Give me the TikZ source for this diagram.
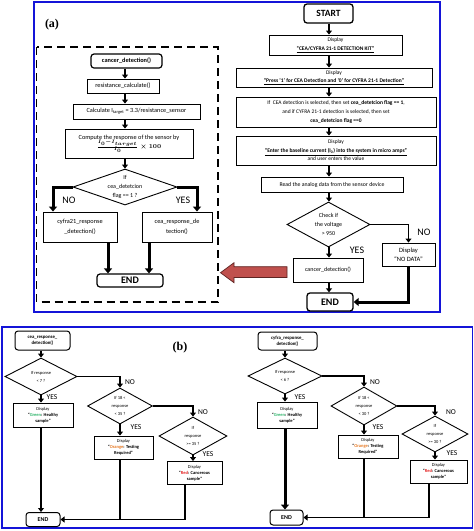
\documentclass[tikz,border=0pt]{standalone}
\usepackage{fontspec}
\setmainfont{Carlito}
\newfontfamily\serifb{Liberation Serif}
\usetikzlibrary{shapes.geometric,arrows.meta,calc}
\definecolor{panelblue}{HTML}{1414D8}
\definecolor{arrred}{HTML}{C0504D}
\definecolor{arrdark}{HTML}{5E2422}
\definecolor{grn}{HTML}{2DB56A}
\definecolor{org}{HTML}{E87A24}
\definecolor{rd}{HTML}{E41E1E}
\tikzset{
  box/.style={draw, line width=0.9pt, fill=white, align=center, inner sep=0pt},
  rbox/.style={box, rounded corners=3pt},
  dia/.style={draw, diamond, line width=0.9pt, inner sep=0pt, fill=white},
  dtext/.style={align=center, inner sep=0pt},
  arr/.style={line width=1.8pt, -{Triangle[length=4pt,width=6pt]}},
  arrT/.style={line width=3pt, -{Triangle[length=5pt,width=8pt]}},
  plain/.style={line width=1.8pt},
  lbl/.style={inner sep=0pt, font=\fontsize{10}{12}\selectfont},
  slbl/.style={inner sep=0pt, font=\fontsize{7.5}{9}\selectfont},
  fA/.style={font=\fontsize{6.3}{10}\selectfont},
  fB/.style={font=\fontsize{5.5}{8.6}\selectfont},
  fC/.style={font=\fontsize{4.5}{6}\selectfont},
  fD/.style={font=\fontsize{4.5}{8}\selectfont},
  panel/.style={draw=panelblue, line width=1.6pt},
}
\begin{document}
\begin{tikzpicture}[x=1pt,y=-1pt]
\useasboundingbox (0,0) rectangle (474,531);
% panels
\draw[panel] (34,2) rectangle (440,312);
\draw[panel] (2,327) rectangle (472.5,528);
\node[inner sep=0pt, font=\serifb\bfseries\fontsize{12}{14}\selectfont] (la) at (52,25) {(a)};
\node[inner sep=0pt, font=\serifb\bfseries\fontsize{12}{14}\selectfont] (lb) at (180,348) {(b)};
\draw[line width=1.4pt, dash pattern=on 8pt off 5pt] (36.5,47) rectangle (218,302);

% ---------- top-left: cancer_detection ----------
\coordinate (colA) at (125,0);
\node[rbox, line width=1.2pt, minimum width=71, minimum height=14, fA, font=\bfseries\fontsize{6.3}{8}\selectfont] (cd) at (126.5,61) {cancer\_detection()};
\node[box, minimum width=72, minimum height=14, fA] (rc) at (123,86) {resistance\_calculate()};
\node[box, minimum width=127, minimum height=15, fA] (calc) at (136.5,111.5) {Calculate I\textsubscript{target} = 3.3/resistance\_sensor};
\node[box, minimum width=128, minimum height=29, font=\fontsize{6.3}{9}\selectfont] (comp) at (129,143.5) {Compute the response of the sensor by\\[-1pt] {\boldmath$\frac{I_0 - I_{target}}{I_0}\times 100$}};
\node[dia, minimum width=104, minimum height=36] (d1) at (125,187) {};
\node[dtext, font=\fontsize{6}{9}\selectfont] (d1t) at (d1) {If\\cea\_detetcion\\flag == 1 ?};
\node[box, minimum width=74, minimum height=30, fA] (cyf) at (80,227) {cyfra21\_response\\\_detection()};
\node[box, minimum width=70, minimum height=30, fA] (cea) at (177,227) {cea\_response\_de\\tection()};
\node[rbox, line width=1.2pt, minimum width=66, minimum height=13, font=\bfseries\fontsize{10}{12}\selectfont] (end1) at (130,280.5) {END};
\coordinate (xNO) at (53,0);
\coordinate (xYES) at (197,0);
\coordinate (xe1) at (108,0);
\coordinate (xe2) at (149,0);
\draw[arr] (cd.south -| colA) -- (rc.north -| colA);
\draw[arr] (rc.south -| colA) -- (calc.north -| colA);
\draw[arr] (calc.south -| colA) -- (comp.north -| colA);
\draw[arr] (comp.south -| colA) -- (d1.north);
\draw[arrT] (d1.west) -| (cyf.north -| xNO);
\draw[arrT] (d1.east) -| (cea.north -| xYES);
\draw[arrT] (cyf.south -| xe1) -- (end1.north -| xe1);
\draw[arrT] (cea.south -| xe2) -- (end1.north -| xe2);
\node[lbl] (no1) at (69,200) {NO};
\node[lbl] (yes1) at (183,200) {YES};

% ---------- top-right: main flow ----------
\coordinate (colB) at (329,0);
\node[rbox, line width=1.3pt, minimum width=49, minimum height=19, font=\bfseries\fontsize{9.5}{11}\selectfont] (start) at (328.5,13.5) {START};
\node[box, minimum width=133, minimum height=20, fB] (b1) at (335.5,45) {Display\\\underline{\textbf{“CEA/CYFRA 21-1 DETECTION KIT”}}};
\node[box, minimum width=196, minimum height=19, fB] (b2) at (334,77.5) {Display\\\underline{\textbf{“Press ‘1’ for CEA Detection and  ‘0’ for CYFRA 21-1 Detection”}}};
\node[box, minimum width=200, minimum height=30, fB] (b3) at (336,112) {If\ \ CEA detection is selected, then set \textbf{cea\_detetcion flag == 1},\\and if CYFRA 21-1 detection is selected, then set\\\textbf{cea\_detetcion flag ==0}};
\node[box, minimum width=200, minimum height=29, fB] (b4) at (336,150.5) {Display\\\underline{\textbf{“Enter the baseline current (I\textsubscript{0}) into the system in micro amps”}}\\and user enters the value};
\node[box, minimum width=142, minimum height=15, font=\fontsize{5.8}{7}\selectfont] (b5) at (332,184.5) {Read the analog data from the sensor device};
\node[dia, minimum width=83, minimum height=45] (d2) at (328.5,224.5) {};
\node[dtext, font=\fontsize{6}{8.6}\selectfont] (d2t) at (d2) {Check if\\the voltage\\> 950};
\node[box, minimum width=70, minimum height=24, font=\fontsize{6}{8}\selectfont] (cdr) at (328,270) {cancer\_detection()};
\node[box, minimum width=53, minimum height=23, font=\fontsize{6.5}{9}\selectfont] (nod) at (408.5,254.5) {Display\\“NO DATA”};
\node[rbox, line width=1.3pt, minimum width=46, minimum height=18, font=\bfseries\fontsize{10}{12}\selectfont] (end2) at (330,302) {END};
\draw[arr] (start.south -| colB) -- (b1.north -| colB);
\draw[arr] (b1.south -| colB) -- (b2.north -| colB);
\draw[arr] (b2.south -| colB) -- (b3.north -| colB);
\draw[arr] (b3.south -| colB) -- (b4.north -| colB);
\draw[arr] (b4.south -| colB) -- (b5.north -| colB);
\draw[arr] (b5.south -| colB) -- (d2.north -| colB);
\draw[arr] (d2.south -| colB) -- (cdr.north -| colB);
\draw[arr] (cdr.south -| colB) -- (end2.north -| colB);
\draw[arr] (d2.east) -| (nod.north);
\draw[arrT] (nod.south) |- (end2.east);
\node[lbl] (yes2) at (357,250) {YES};
\node[lbl] (no2) at (424,232) {NO};
% big red arrow
\draw[fill=arrred, draw=arrdark, line width=0.7pt] (287,266.7) -- (234,266.7) -- (234,262.7) -- (220.5,272.7) -- (234,282.7) -- (234,277.5) -- (287,277.5) -- cycle;

% ---------- bottom-left: cea_response_detection ----------
\node[rbox, line width=1pt, minimum width=55, minimum height=19, font=\bfseries\fontsize{4.8}{6.5}\selectfont] (lc0) at (42.5,340.5) {cea\_response\_\\detection()};
\node[dia, minimum width=72, minimum height=37] (ld1) at (41,376.5) {};
\node[dtext, fD] (ld1t) at (ld1) {If response\\< 7 ?};
\node[box, minimum width=60, minimum height=24, fC] (lg) at (43,415) {Display\\\textbf{“\textcolor{grn}{Green}: Healthy}\\\textbf{sample”}};
\node[dia, minimum width=65, minimum height=36] (ld2) at (120,406) {};
\node[dtext, fD] (ld2t) at (ld2) {If 18 <\\response\\< 35 ?};
\node[box, minimum width=59, minimum height=23, fC] (lo) at (123.5,447.5) {Display\\\textbf{“\textcolor{org}{Orange}: Testing}\\\textbf{Required”}};
\node[dia, minimum width=68, minimum height=38] (ld3) at (193,436) {};
\node[dtext, fD] (ld3t) at (ld3) {If\\response\\>= 35 ?};
\node[box, minimum width=55, minimum height=23, fC] (lr) at (194.5,473) {Display\\\textbf{“\textcolor{rd}{Red}: Cancerous}\\\textbf{sample”}};
\node[rbox, line width=1pt, minimum width=34, minimum height=14, font=\bfseries\fontsize{6}{7}\selectfont] (lend) at (43,519.5) {END};
\coordinate (xlr) at (185,0);
\draw[arr] (lc0.south -| ld1) -- (ld1.north);
\draw[arr] (ld1.south) -- (lg.north -| ld1);
\draw[arr] (ld1.east) -| (ld2.north);
\draw[arr] (ld2.south) -- (lo.north -| ld2);
\draw[arr] (ld2.east) -| (ld3.north);
\draw[arr] (ld3.south) -- (lr.north -| ld3);
\draw[arr] (lg.south -| ld1) -- (lend.north -| ld1);
\draw[plain] (lo.south -| ld2) -- (ld2 |- lend.east);
\draw[arr] (lr.south -| xlr) |- (lend.east);
\node[slbl] (ly1) at (52,397) {YES};
\node[slbl] (ln1) at (130,382) {NO};
\node[slbl] (ln2) at (203,412) {NO};
\node[slbl] (ly2) at (136,427) {YES};
\node[slbl] (ly3) at (208,454) {YES};

% ---------- bottom-right: cyfra_response_detection ----------
\node[rbox, line width=1pt, minimum width=59, minimum height=18, font=\bfseries\fontsize{4.8}{6.5}\selectfont] (rc0) at (287.5,341) {cyfra\_response\_\\detection()};
\node[dia, minimum width=74, minimum height=36] (rd1) at (285,376) {};
\node[dtext, fD] (rd1t) at (rd1) {If response\\< 6 ?};
\node[box, minimum width=60, minimum height=26, fC] (rg) at (287,415) {Display\\\textbf{“\textcolor{grn}{Green}: Healthy}\\\textbf{sample”}};
\node[dia, minimum width=66, minimum height=38] (rd2) at (364,406) {};
\node[dtext, fD] (rd2t) at (rd2) {If 18 <\\response\\< 30 ?};
\node[box, minimum width=60, minimum height=23, fC] (ro) at (368,446.5) {Display\\\textbf{“\textcolor{org}{Orange}: Testing}\\\textbf{Required”}};
\node[dia, minimum width=66, minimum height=36] (rd3) at (435,434) {};
\node[dtext, fD] (rd3t) at (rd3) {If\\response\\>= 30 ?};
\node[box, minimum width=57, minimum height=23, fC] (rr) at (438.5,471.5) {Display\\\textbf{“\textcolor{rd}{Red}: Cancerous}\\\textbf{sample”}};
\node[rbox, line width=1pt, minimum width=33, minimum height=15, font=\bfseries\fontsize{6}{7}\selectfont] (rend) at (286.5,517.5) {END};
\coordinate (xrr) at (429,0);
\draw[arr] (rc0.south -| rd1) -- (rd1.north);
\draw[arr] (rd1.south) -- (rg.north -| rd1);
\draw[arr] (rd1.east) -| (rd2.north);
\draw[arr] (rd2.south) -- (ro.north -| rd2);
\draw[arr] (rd2.east) -| (rd3.north);
\draw[arr] (rd3.south) -- (rr.north -| rd3);
\draw[arrT] (rg.south -| rd1) -- (rend.north -| rd1);
\draw[plain] (ro.south -| rd2) -- (rd2 |- rend.east);
\draw[arr] (rr.south -| xrr) |- (rend.east);
\node[slbl] (ry1) at (300,397) {YES};
\node[slbl] (rn1) at (375,382) {NO};
\node[slbl] (rn2) at (451,412) {NO};
\node[slbl] (ry2) at (378,427) {YES};
\node[slbl] (ry3) at (452,453) {YES};
\end{tikzpicture}
\end{document}
